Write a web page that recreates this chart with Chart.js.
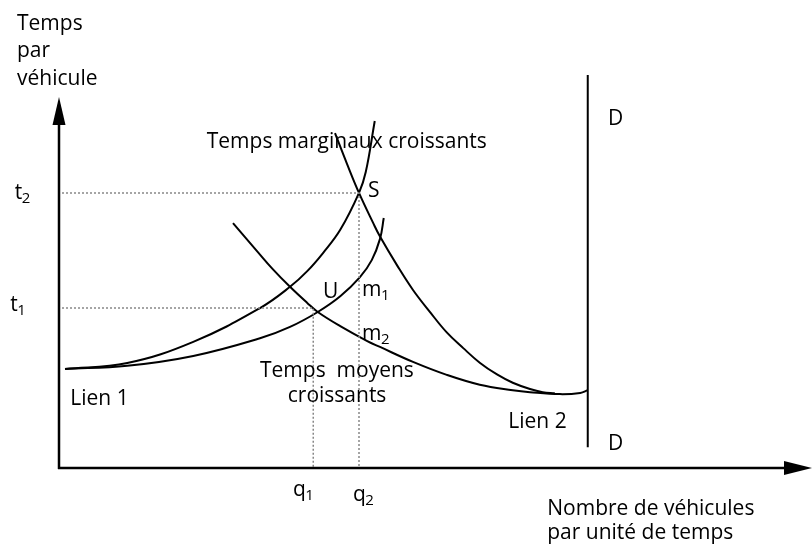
<!DOCTYPE html>
<html>
<head>
<meta charset="utf-8">
<script src="https://cdn.jsdelivr.net/npm/chart.js@4.4.0/dist/chart.umd.min.js"></script>
<style>
  body { margin: 0; background: #fff; }
</style>
</head>
<body>
<canvas id="trafficChart" width="812" height="544"></canvas>
<script>

// Lien 1 : temps moyens croissants
var lien1MoyenX = [0.8, 9.1, 17.9, 26.8, 30.8, 34.5, 37.5, 40.1, 41.7, 42.8, 43.3];
var lien1MoyenY = [25.2, 26.0, 28.5, 33.0, 35.9, 39.7, 43.7, 48.5, 52.9, 58.3, 63.6];

// Lien 1 : temps marginaux croissants
var lien1MargX = [0.8, 9.1, 17.9, 26.8, 30.8, 33.1, 35.2, 37.5, 40.0, 40.9, 42.1];
var lien1MargY = [25.2, 26.7, 32.1, 40.7, 46.1, 50.1, 54.7, 60.6, 70.0, 75.3, 88.3];

// Lien 2 : temps moyens
var lien2MoyenX = [23.2, 26.4, 28.5, 30.8, 33.1, 34.5, 37.5, 41.1, 42.8, 47.2, 51.7, 56.1, 60.5, 62.8, 66.8, 69.5, 70.5];
var lien2MoyenY = [62.3, 55.2, 50.6, 46.1, 42.0, 39.7, 36.1, 32.3, 30.8, 27.0, 23.7, 21.2, 19.8, 19.3, 18.8, 19.1, 19.8];

// Lien 2 : temps marginaux
var lien2MargX = [36.8, 38.4, 40.0, 41.9, 42.8, 45.1, 47.2, 49.5, 51.7, 53.9, 56.1, 58.4, 60.5, 62.8, 64.5, 66.1];
var lien2MargY = [85.2, 77.4, 70.0, 62.3, 58.9, 51.5, 45.3, 39.6, 34.5, 30.5, 26.8, 23.8, 21.7, 20.1, 19.3, 19.0];

// demande D
var demandeX = [70.5, 70.5];
var demandeY = [100, 5.3];

// niveaux t1, t2 et quantites q1, q2
var tempsT = [40.7, 70.0];
var quantQ = [33.9, 40.0];


function toPoints(xs, ys) {
  var pts = [];
  for (var i = 0; i < xs.length; i++) {
    pts.push({ x: xs[i], y: ys[i] });
  }
  return pts;
}

function curve(xs, ys) {
  return {
    data: toPoints(xs, ys),
    borderColor: '#000',
    borderWidth: 2,
    pointRadius: 0,
    tension: 0.4,
    fill: false
  };
}

function dotted(t, q) {
  return {
    data: [{ x: 0.4, y: t }, { x: q, y: t }, { x: q, y: 0 }],
    borderColor: '#888',
    borderWidth: 1.5,
    borderDash: [2, 2],
    pointRadius: 0,
    tension: 0,
    fill: false
  };
}

// textes du schema (coordonnees dans l'unite des axes)
var textes = [
  { t: 'Temps', x: -5.6, y: 111.5 },
  { t: 'par', x: -5.6, y: 104.6 },
  { t: 'véhicule', x: -5.6, y: 97.5 },
  { t: 't', s: '2', x: -5.9, y: 68.4 },
  { t: 't', s: '1', x: -6.5, y: 40.0 },
  { t: 'Temps marginaux croissants', x: 19.7, y: 81.4 },
  { t: 'S', x: 41.2, y: 69.0 },
  { t: 'U', x: 35.2, y: 43.3 },
  { t: 'm', s: '1', x: 40.4, y: 43.8 },
  { t: 'm', s: '2', x: 40.4, y: 32.6 },
  { t: 'Temps  moyens', x: 26.8, y: 23.2 },
  { t: 'croissants', x: 30.5, y: 16.8 },
  { t: 'Lien 1', x: 1.5, y: 16.0 },
  { t: 'Lien 2', x: 59.9, y: 10.2 },
  { t: 'D', x: 73.2, y: 87.3 },
  { t: 'D', x: 73.2, y: 4.6 },
  { t: 'q', s: '1', x: 31.2, y: -7.1 },
  { t: 'q', s: '2', x: 39.2, y: -8.4 },
  { t: 'Nombre de véhicules', x: 65.1, y: -12.0 },
  { t: 'par unité de temps', x: 65.1, y: -18.1 }
];

var FONT = '"Open Sans", sans-serif';

var diagramPlugin = {
  id: 'diagram',
  afterDatasetsDraw: function(chart) {
    var ctx = chart.ctx;
    var sx = chart.scales.x;
    var sy = chart.scales.y;
    var x0 = sx.getPixelForValue(0);
    var y0 = sy.getPixelForValue(0);
    var yTip = sy.getPixelForValue(94.4);
    var xTip = sx.getPixelForValue(100.4);

    ctx.save();
    ctx.strokeStyle = '#000';
    ctx.fillStyle = '#000';
    ctx.lineWidth = 2.5;

    // axe vertical
    ctx.beginPath();
    ctx.moveTo(x0, y0 + 1);
    ctx.lineTo(x0, yTip + 20);
    ctx.stroke();
    ctx.beginPath();
    ctx.moveTo(x0, yTip);
    ctx.lineTo(x0 - 6.5, yTip + 28);
    ctx.lineTo(x0 + 6.5, yTip + 28);
    ctx.closePath();
    ctx.fill();

    // axe horizontal
    ctx.beginPath();
    ctx.moveTo(x0 - 1, y0);
    ctx.lineTo(xTip - 20, y0);
    ctx.stroke();
    ctx.beginPath();
    ctx.moveTo(xTip, y0);
    ctx.lineTo(xTip - 28, y0 - 7);
    ctx.lineTo(xTip - 28, y0 + 7);
    ctx.closePath();
    ctx.fill();

    // textes
    ctx.textAlign = 'left';
    ctx.textBaseline = 'alphabetic';
    for (var i = 0; i < textes.length; i++) {
      var lab = textes[i];
      var px = sx.getPixelForValue(lab.x);
      var py = sy.getPixelForValue(lab.y);
      ctx.font = '21px ' + FONT;
      ctx.fillText(lab.t, px, py);
      if (lab.s) {
        var w = ctx.measureText(lab.t).width;
        ctx.font = '15px ' + FONT;
        ctx.fillText(lab.s, px + w - 0.5, py + 4);
      }
    }
    ctx.restore();
  }
};

function initChart() {
  var ctx = document.getElementById('trafficChart').getContext('2d');
  var chart = new Chart(ctx, {
    type: 'scatter',
    data: {
      datasets: [
        dotted(tempsT[1], quantQ[1]),
        dotted(tempsT[0], quantQ[0]),
        curve(lien1MoyenX, lien1MoyenY),
        curve(lien1MargX, lien1MargY),
        curve(lien2MoyenX, lien2MoyenY),
        curve(lien2MargX, lien2MargY),
        {
          data: toPoints(demandeX, demandeY),
          borderColor: '#000',
          borderWidth: 2,
          pointRadius: 0,
          tension: 0
        }
      ]
    },
    options: {
      responsive: false,
      animation: false,
      showLine: true,
      layout: { padding: { left: 59, right: 3, top: 75, bottom: 76 } },
      scales: {
        x: { type: 'linear', min: 0, max: 100, display: false },
        y: { type: 'linear', min: 0, max: 100, display: false }
      },
      plugins: {
        legend: { display: false },
        tooltip: { enabled: false }
      }
    },
    plugins: [diagramPlugin]
  });
}

initChart();

</script>
</body>
</html>
